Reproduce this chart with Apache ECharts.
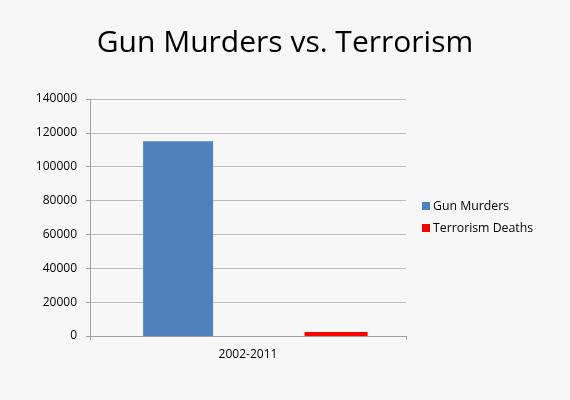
<!DOCTYPE html>
<html>
<head>
<meta charset="utf-8">
<script src="https://cdn.jsdelivr.net/npm/echarts@6/dist/echarts.min.js"></script>
<style>
html,body{margin:0;padding:0;background:#f7f7f7;}
#chart{width:570px;height:400px;}
</style>
</head>
<body>
<div id="chart"></div>
<script>
const titleText = "Gun Murders vs. Terrorism";
const categories = ["2002-2011"];
const seriesNames = ["Gun Murders", "Terrorism Deaths"];
const gunMurders = [115000];
const terrorismDeaths = [2400];
const yTicks = [0, 20000, 40000, 60000, 80000, 100000, 120000, 140000];

const chart = echarts.init(document.getElementById('chart'));
const font = "'Open Sans', 'Noto Sans', sans-serif";
chart.setOption({
  backgroundColor: '#f7f7f7',
  animation: false,
  title: {
    text: titleText,
    left: 'center',
    top: 23,
    textStyle: { fontFamily: font, fontSize: 30, fontWeight: 'normal', color: '#000' }
  },
  legend: {
    orient: 'vertical',
    left: 417,
    top: 195,
    itemWidth: 8,
    itemHeight: 8,
    itemGap: 10,
    icon: 'rect',
    data: seriesNames,
    textStyle: { fontFamily: font, fontSize: 12.3, color: '#000', padding: [0, 0, 0, -2] }
  },
  grid: [
    { left: 90, right: 164, top: 99, bottom: 64 },
    { left: 97.35, right: 156.65, top: 99, bottom: 64 }
  ],
  xAxis: [
    {
      gridIndex: 0, type: 'category', data: categories,
      axisLine: { lineStyle: { color: '#a0a0a0' } },
      axisTick: { show: true, length: 4, lineStyle: { color: '#a0a0a0' } },
      axisLabel: { fontFamily: font, fontSize: 12, color: '#000', margin: 13 }
    },
    {
      gridIndex: 1, type: 'category', data: categories, show: false
    }
  ],
  yAxis: [
    {
      gridIndex: 0, type: 'value', min: yTicks[0], max: yTicks[yTicks.length - 1], interval: yTicks[1] - yTicks[0],
      axisLine: { show: true, lineStyle: { color: '#a0a0a0' } },
      axisTick: { show: true, length: 4, lineStyle: { color: '#a0a0a0' } },
      axisLabel: { fontFamily: font, fontSize: 12, color: '#000', margin: 13, formatter: v => String(v) },
      splitLine: { lineStyle: { color: '#bcbcbc' } }
    },
    {
      gridIndex: 1, type: 'value', min: yTicks[0], max: yTicks[yTicks.length - 1], show: false,
      splitLine: { show: false }
    }
  ],
  series: [
    {
      name: seriesNames[0], type: 'bar', xAxisIndex: 1, yAxisIndex: 1,
      data: gunMurders, barWidth: 70, barGap: '130.7%',
      itemStyle: { color: '#4f81bd' }
    },
    {
      name: seriesNames[1], type: 'bar', xAxisIndex: 1, yAxisIndex: 1,
      data: terrorismDeaths, barWidth: 63,
      itemStyle: { color: '#ff0000' }
    }
  ]
});
</script>
</body>
</html>
